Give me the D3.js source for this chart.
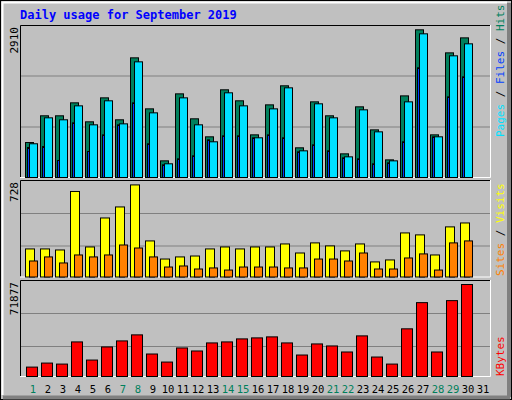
<!DOCTYPE html>
<html><head><meta charset="utf-8">
<script src="https://cdn.jsdelivr.net/npm/d3@7"></script>
<style>body{margin:0;background:#fff}</style></head>
<body><svg id="c" width="512" height="400"></svg>
<script>
const days = d3.range(1, 32);
const weekend = [1,7,8,14,15,21,22,28,29];
const hits  = [674,1189,1189,1439,1073,1535,1112,2306,1323,321,1612,1131,784,1690,1478,822,1400,1767,572,1458,1189,456,1362,918,340,1573,2846,822,2402,2691,0];
const files = [650,1150,1112,1381,1015,1478,1034,2229,1246,264,1535,1015,688,1632,1381,765,1323,1728,514,1420,1150,398,1304,880,321,1458,2769,784,2345,2576,0];
const pages = [578,597,328,1054,501,822,1015,1439,650,245,360,418,726,803,803,765,822,765,495,630,514,379,360,264,283,688,2114,784,1554,1940,0];
const sites = [214,214,206,652,229,450,534,702,275,137,153,160,214,229,214,229,229,252,183,260,237,199,252,115,130,336,321,168,382,412,0];
const visits= [122,153,107,168,153,168,244,221,153,76,84,61,69,53,76,76,76,69,69,137,137,122,183,61,61,145,176,53,260,275,0];
const kbytes= [7345,10493,9706,27018,12853,23083,27805,32526,17575,11280,22296,19936,26232,27018,29379,30166,30953,26232,16788,25445,23869,19148,31739,15214,9706,37247,57706,19148,59280,71877,0];
const maxTop = 2910, maxMid = 728, maxBot = 71877;

const svg = d3.select("#c");
const mono = "'DejaVu Sans Mono', monospace";
// background & frame
svg.append("rect").attr("x",0).attr("y",0).attr("width",512).attr("height",400).attr("fill","#c0c0c0");
svg.append("rect").attr("x",0.5).attr("y",0.5).attr("width",511).attr("height",399).attr("fill","none").attr("stroke","#000");
svg.append("path").attr("d","M2,2.5H507M2.5,2V395").attr("stroke","#fff").attr("stroke-width",2);
svg.append("path").attr("d","M509,3V397M3,397.5H510").attr("stroke","#808080").attr("stroke-width",4);
svg.append("text").attr("x",20).attr("y",19).attr("fill","#0000ff").attr("font-family",mono)
  .attr("font-weight","bold").attr("font-size",12).text("Daily usage for September 2019");

const x = d3.scaleLinear().domain([1,32]).range([25, 25+31*15]);

const panels = [
  {top:25, base:177, max:maxTop, label:"2910"},
  {top:180, base:276.5, max:maxMid, label:"728"},
  {top:280, base:376, max:maxBot, label:"71877"}
];
const ys = panels.map((p,i)=> d3.scaleLinear().domain([0,p.max]).range([p.base, i===0?26:(i===1?181:284)]));

panels.forEach((p,i)=>{
  const h = p.base - p.top;
  svg.append("path").attr("d",`M20.5,${p.base}V${p.top+0.5}H490`).attr("fill","none").attr("stroke","#000");
  svg.append("path").attr("d",`M490.5,${p.top}V${p.base+0.5}H20`).attr("fill","none").attr("stroke","#fff");
  const gl = i===0?[76,127]:(i===1?[213.5,246]:[313.5,346.5]);
  gl.forEach(g=>svg.append("line").attr("x1",21).attr("x2",490).attr("y1",g).attr("y2",g).attr("stroke","#808080"));
  svg.append("text").attr("transform",`translate(18,${p.top+2}) rotate(-90)`).attr("text-anchor","end")
    .attr("font-family",mono).attr("font-size",11).attr("fill","#000").text(p.label);
});

function bars(data, yS, off, w, color){
  svg.append("g").selectAll("rect").data(days.filter((d,i)=>data[i]>0)).join("rect")
    .attr("x",d=>x(d)+off+0.5).attr("width",w)
    .attr("y",d=>yS(data[d-1])+0.5).attr("height",d=>yS(0)-yS(data[d-1]))
    .attr("fill",color).attr("stroke","#000");
}
bars(hits, ys[0], 0, 8, "#00805c");
bars(files, ys[0], 4, 8, "#00e0ff");
bars(pages, ys[0], 2, 2, "#0040ff");
bars(sites, ys[1], 0, 9, "#ffff00");
bars(visits, ys[1], 4, 8, "#ff8000");
bars(kbytes, ys[2], 1, 11, "#ff0000");

svg.append("g").selectAll("text").data(days).join("text")
  .attr("x",d=>x(d)+8).attr("y",393).attr("text-anchor","middle")
  .attr("font-family",mono).attr("font-size",10.5)
  .attr("fill",d=>weekend.includes(d)?"#00805c":"#000").text(d=>d);

function sideLabel(yBottom, parts){
  const t = svg.append("text").attr("transform",`translate(504,${yBottom}) rotate(-90)`)
    .attr("font-family",mono).attr("font-size",11);
  parts.forEach(([s,c])=>t.append("tspan").attr("fill",c).text(s));
}
sideLabel(137, [["Pages","#00e0ff"],[" / ","#000"],["Files","#0040ff"],[" / ","#000"],["Hits","#00805c"]]);
sideLabel(276, [["Sites","#ff8000"],[" / ","#000"],["Visits","#ffff00"]]);
sideLabel(376, [["KBytes","#ff0000"]]);
</script></body></html>
